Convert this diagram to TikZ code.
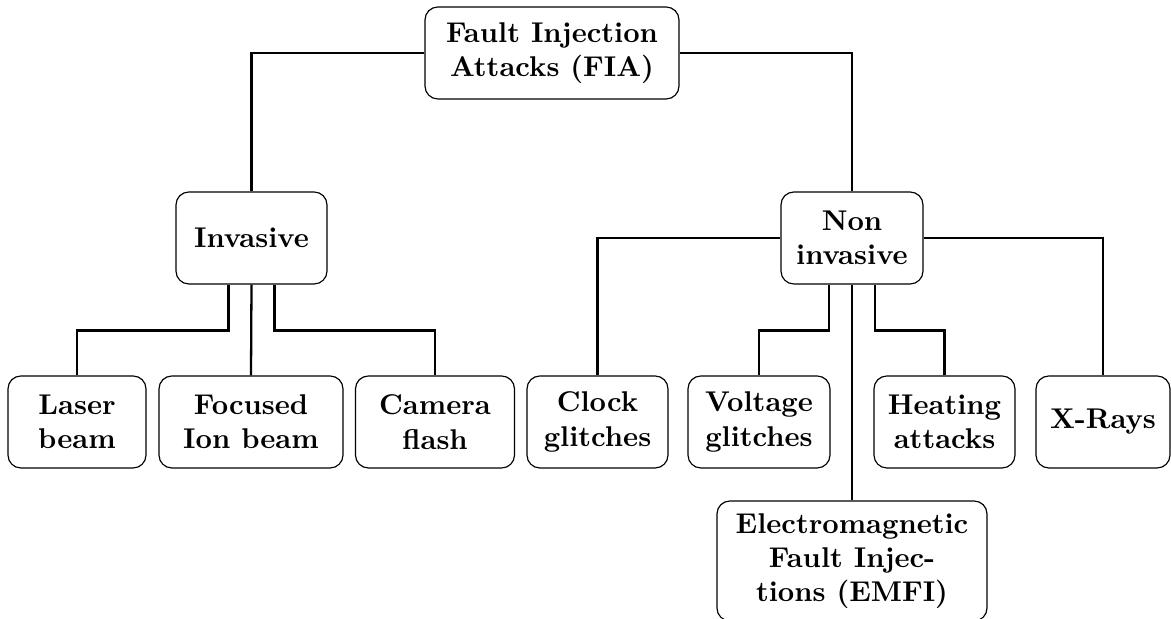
\documentclass[tikz,border=0pt]{standalone}
\usetikzlibrary{calc}
\def\px{0.35pt}
\begin{document}
\begin{tikzpicture}[x=\px,y=-\px,
  box/.style={draw,rounded corners=4.5pt,align=center,font=\bfseries,inner xsep=3pt,minimum height=92*\px},
  link/.style={thick}]
  \useasboundingbox (0,0) rectangle (1171,619);
  \node[box,minimum width=254*\px] (fia) at (552,53) {Fault Injection\\Attacks (FIA)};
  \node[box,minimum width=151*\px] (inv) at (251.5,238) {Invasive};
  \node[box,minimum width=142*\px] (non) at (852,238) {Non\\invasive};
  \node[box,minimum width=138*\px] (laser) at (77,422) {Laser\\beam};
  \node[box,minimum width=184*\px] (ion) at (251,422) {Focused\\Ion beam};
  \node[box,minimum width=159*\px] (cam) at (435,422) {Camera\\flash};
  \node[box,minimum width=141*\px] (clock) at (597.5,422) {Clock\\glitches};
  \node[box,minimum width=142*\px] (volt) at (759,422) {Voltage\\glitches};
  \node[box,minimum width=141*\px] (heat) at (944.5,422) {Heating\\attacks};
  \node[box,minimum width=134*\px] (xray) at (1103,422) {X-Rays};
  \node[box,minimum width=270*\px,minimum height=120*\px] (emfi) at (852,561) {Electromagnetic\\Fault Injec-\\tions (EMFI)};
  \draw[link] (fia.west) -| (inv.north);
  \draw[link] (fia.east) -| (non.north);
  \draw[link] ($(inv.south)+(-23,0)$) -- ++(0,46) -| (laser.north);
  \draw[link] (inv.south) -- (ion.north);
  \draw[link] ($(inv.south)+(23,0)$) -- ++(0,46) -| (cam.north);
  \draw[link] (non.west) -| (clock.north);
  \draw[link] (non.east) -| (xray.north);
  \draw[link] ($(non.south)+(-23,0)$) -- ++(0,46) -| (volt.north);
  \draw[link] (non.south) -- (emfi.north);
  \draw[link] ($(non.south)+(23,0)$) -- ++(0,46) -| (heat.north);
\end{tikzpicture}
\end{document}
